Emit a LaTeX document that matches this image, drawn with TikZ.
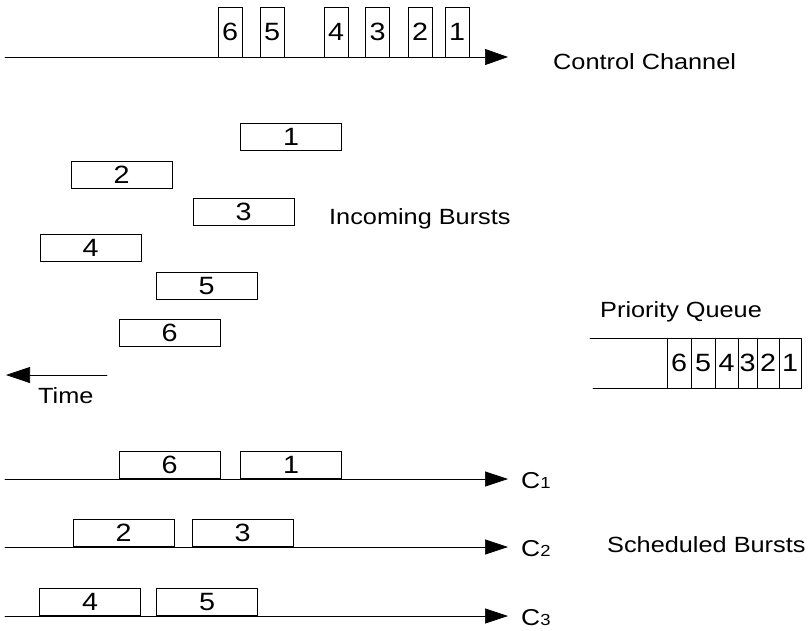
\documentclass[tikz,border=0pt]{standalone}
\usepackage{fontspec}
\usepackage{tkz-euclide}
\usetikzlibrary{arrows.meta}
\setmainfont{Liberation Sans}
\newfontfamily\widefont{Liberation Sans}[FakeStretch=1.15]
\newcommand\subfnt{\fontsize{16}{16}\selectfont}

\begin{document}
\begin{tikzpicture}[x=1pt,y=-1pt,
  burst/.style={draw, line width=0.7pt, minimum width=101pt, minimum height=27pt, inner sep=0pt, font=\widefont\fontsize{25}{25}\selectfont},
  cell/.style={draw, line width=0.7pt, minimum width=24pt, minimum height=50pt, inner sep=0pt, font=\widefont\fontsize{25}{25}\selectfont},
  lbl/.style={anchor=base west, inner sep=0pt, font=\widefont\fontsize{22}{22}\selectfont}]
\useasboundingbox (0,0) rectangle (811,630);
% control channel
\tkzDefPoints{5/57/A, 508/57/B}
\foreach \n/\x in {6/230, 5/272, 4/336, 3/377.5, 2/420, 1/457}
  \node[cell] (ctl\n) at (\x,32) {\n};
\tkzDrawSegments[line width=0.7pt, -{Triangle[length=23pt,width=16pt]}](A,B)
\node[lbl] (ctlname) at (553,69) {Control Channel};
% incoming bursts
\node[burst] (in1) at (291,137) {1};
\node[burst] (in2) at (121.5,174.5) {2};
\node[burst] (in3) at (243.5,212) {3};
\node[burst] (in4) at (90.5,248) {4};
\node[burst] (in5) at (206.5,286) {5};
\node[burst] (in6) at (169.5,332.5) {6};
\node[lbl] (inname) at (329,224) {Incoming Bursts};
% time
\tkzDefPoints{107/375/T1, 6/375/T2}
\tkzDrawSegments[line width=0.7pt, -{Triangle[length=24pt,width=16pt]}](T1,T2)
\node[lbl] (time) at (38,403) {Time};
% priority queue
\tkzDefPoints{590/338/Q1, 801/338/Q2, 593/388/Q3, 801/388/Q4}
\tkzDrawSegments[line width=0.7pt](Q1,Q2 Q3,Q4)
\foreach \n/\x/\w in {6/679/24, 5/703/24, 4/726.5/23, 3/747.5/19, 2/768/22, 1/790/22}
  \node[cell, minimum width=\w pt] (q\n) at (\x,363) {\n};
\node[lbl] (qname) at (600,317) {Priority Queue};
% scheduled bursts
\tkzDefPoints{5/479/S1, 508/479/E1, 5/547/S2, 508/547/E2, 5/616/S3, 508/616/E3}
\tkzDrawSegments[line width=0.7pt, -{Triangle[length=23pt,width=15pt]}](S1,E1 S2,E2 S3,E3)
\node[burst] (sc6) at (169.5,464.5) {6};
\node[burst] (sc1) at (291,464.5) {1};
\node[burst] (sc2) at (123.5,532.5) {2};
\node[burst] (sc3) at (242.5,532.5) {3};
\node[burst] (sc4) at (90,602) {4};
\node[burst] (sc5) at (207,602) {5};
\node[lbl, font=\widefont\fontsize{23}{23}\selectfont] (ch1) at (521,488) {C{\subfnt 1}};
\node[lbl, font=\widefont\fontsize{23}{23}\selectfont] (ch2) at (521,556) {C{\subfnt 2}};
\node[lbl, font=\widefont\fontsize{23}{23}\selectfont] (ch3) at (521,625) {C{\subfnt 3}};
\node[lbl] (scname) at (607,552) {Scheduled Bursts};
\end{tikzpicture}
\end{document}
